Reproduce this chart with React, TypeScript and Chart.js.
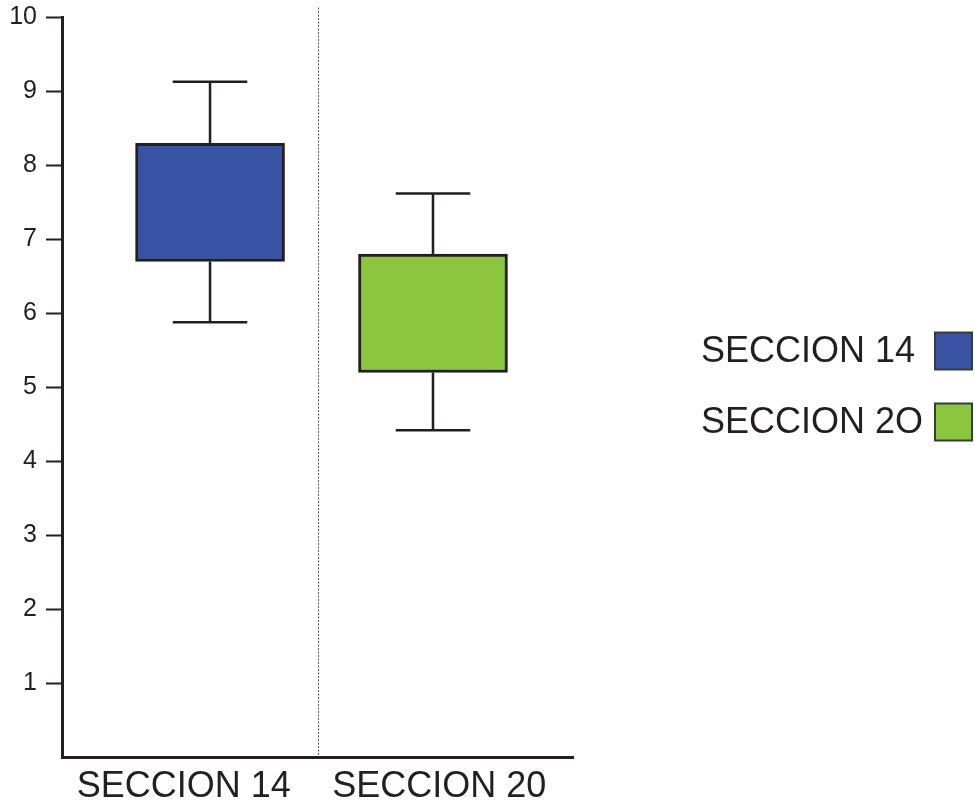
import { useEffect, useRef } from 'react';
import { Chart, registerables } from 'chart.js';

Chart.register(...registerables);

// Two sections, each summarised as a box (Q1–Q3) with whiskers (min–max).
const categories = ['SECCION 14', 'SECCION 20'];
const legendLabels = ['SECCION 14', 'SECCION 2O'];
const q1 = [6.7, 5.2];
const q3 = [8.3, 6.8];
const whiskerLow = [5.88, 4.42];
const whiskerHigh = [9.13, 7.62];
const yTickValues = [1, 2, 3, 4, 5, 6, 7, 8, 9, 10];
const boxColors = ['#3953a4', '#8cc63f'];

const INK = '#231f20';
const FONT = "'Liberation Sans', Arial, Helvetica, sans-serif";

// Whiskers and caps, drawn beneath the boxes so the box outline covers the joins.
const whiskerPlugin = {
  id: 'whiskers',
  beforeDatasetsDraw(chart: any) {
    const meta = chart.getDatasetMeta(0);
    const y = chart.scales.y;
    const ctx = chart.ctx;
    ctx.save();
    ctx.strokeStyle = INK;
    ctx.lineWidth = 2.5;
    meta.data.forEach((bar: any, i: number) => {
      const cx = bar.x;
      const capHalf = bar.width / 4;
      const yHi = y.getPixelForValue(whiskerHigh[i]);
      const yLo = y.getPixelForValue(whiskerLow[i]);
      const yQ3 = y.getPixelForValue(q3[i]);
      const yQ1 = y.getPixelForValue(q1[i]);
      ctx.beginPath();
      ctx.moveTo(cx, yHi);
      ctx.lineTo(cx, yQ3);
      ctx.moveTo(cx, yQ1);
      ctx.lineTo(cx, yLo);
      ctx.moveTo(cx - capHalf, yHi);
      ctx.lineTo(cx + capHalf, yHi);
      ctx.moveTo(cx - capHalf, yLo);
      ctx.lineTo(cx + capHalf, yLo);
      ctx.stroke();
    });
    ctx.restore();
  },
};

// The plot is split into one half per section: a dotted divider down the
// middle and each section name centred under its half.
const sectionsPlugin = {
  id: 'sections',
  beforeDatasetsDraw(chart: any, _args: any, opts: any) {
    const area = chart.chartArea;
    const ctx = chart.ctx;
    const n = categories.length;
    const band = (area.right - area.left) / n;
    ctx.save();
    ctx.strokeStyle = '#555555';
    ctx.lineWidth = 1;
    ctx.setLineDash([2, 1.5]);
    for (let i = 1; i < n; i++) {
      const px = Math.round(area.left + band * i) + 0.5;
      ctx.beginPath();
      ctx.moveTo(px, area.top - 10);
      ctx.lineTo(px, area.bottom);
      ctx.stroke();
    }
    ctx.setLineDash([]);
    ctx.fillStyle = INK;
    ctx.font = `${opts.fontSize}px ${FONT}`;
    ctx.textAlign = 'center';
    ctx.textBaseline = 'middle';
    categories.forEach((name, i) => {
      ctx.fillText(name, area.left + band * (i + 0.5) - opts.shift, area.bottom + opts.gap);
    });
    ctx.restore();
  },
};

// Legend on the right: label text followed by a colour swatch.
const legendPlugin = {
  id: 'sideLegend',
  afterDraw(chart: any, _args: any, opts: any) {
    const ctx = chart.ctx;
    ctx.save();
    ctx.font = `${opts.fontSize}px ${FONT}`;
    ctx.textBaseline = 'middle';
    ctx.textAlign = 'left';
    legendLabels.forEach((label, i) => {
      const cy = opts.top + i * opts.gap;
      ctx.fillStyle = INK;
      ctx.fillText(label, opts.textX, cy + 1);
      ctx.fillStyle = boxColors[i];
      ctx.fillRect(opts.boxX, cy - opts.box / 2, opts.box, opts.box);
      ctx.strokeStyle = '#3a3a3a';
      ctx.lineWidth = 2;
      ctx.strokeRect(opts.boxX, cy - opts.box / 2, opts.box, opts.box);
    });
    ctx.restore();
  },
};

export default function App() {
  const canvasRef = useRef<HTMLCanvasElement | null>(null);

  useEffect(() => {
    document.body.style.margin = '0';
    const canvas = canvasRef.current;
    if (!canvas) return;

    const chart = new Chart(canvas, {
      type: 'bar',
      data: {
        datasets: [
          {
            data: categories.map((_, i) => ({ x: i, y: [q1[i], q3[i]] })) as any,
            backgroundColor: boxColors,
            borderColor: INK,
            borderWidth: 3,
            borderSkipped: false,
            barThickness: 149,
          },
        ],
      },
      options: {
        responsive: false,
        animation: false,
        layout: { padding: { top: 17.5, right: 402, bottom: 0, left: 0 } },
        plugins: {
          legend: { display: false },
          tooltip: { enabled: false },
          sections: { fontSize: 36, gap: 30, shift: 6 },
          sideLegend: { fontSize: 36, textX: 701, boxX: 935, top: 351, gap: 71, box: 37 },
        } as any,
        scales: {
          x: {
            type: 'linear',
            min: -0.664,
            max: 1.628,
            offset: false,
            grid: { display: false, offset: false },
            border: { display: true, width: 3, color: INK },
            ticks: { display: false },
            afterFit(scale: any) {
              scale.height = 48;
              scale.paddingLeft = 0;
              scale.paddingRight = 0;
            },
          },
          y: {
            min: 0,
            max: 10,
            grid: {
              display: true,
              drawOnChartArea: false,
              drawTicks: true,
              tickLength: 16,
              tickWidth: 2,
              tickColor: INK,
            },
            border: { display: true, width: 3, color: INK },
            ticks: {
              color: INK,
              font: { family: FONT, size: 25 },
              padding: 9,
              stepSize: 1,
            },
            afterBuildTicks(scale: any) {
              scale.ticks = yTickValues.map((v) => ({ value: v }));
            },
            afterFit(scale: any) {
              scale.width = 62;
              scale.paddingTop = 0;
              scale.paddingBottom = 0;
            },
          },
        },
      },
      plugins: [sectionsPlugin, whiskerPlugin, legendPlugin],
    });

    return () => chart.destroy();
  }, []);

  return (
    <div style={{ width: 975, height: 805 }}>
      <canvas ref={canvasRef} width={975} height={805} />
    </div>
  );
}
